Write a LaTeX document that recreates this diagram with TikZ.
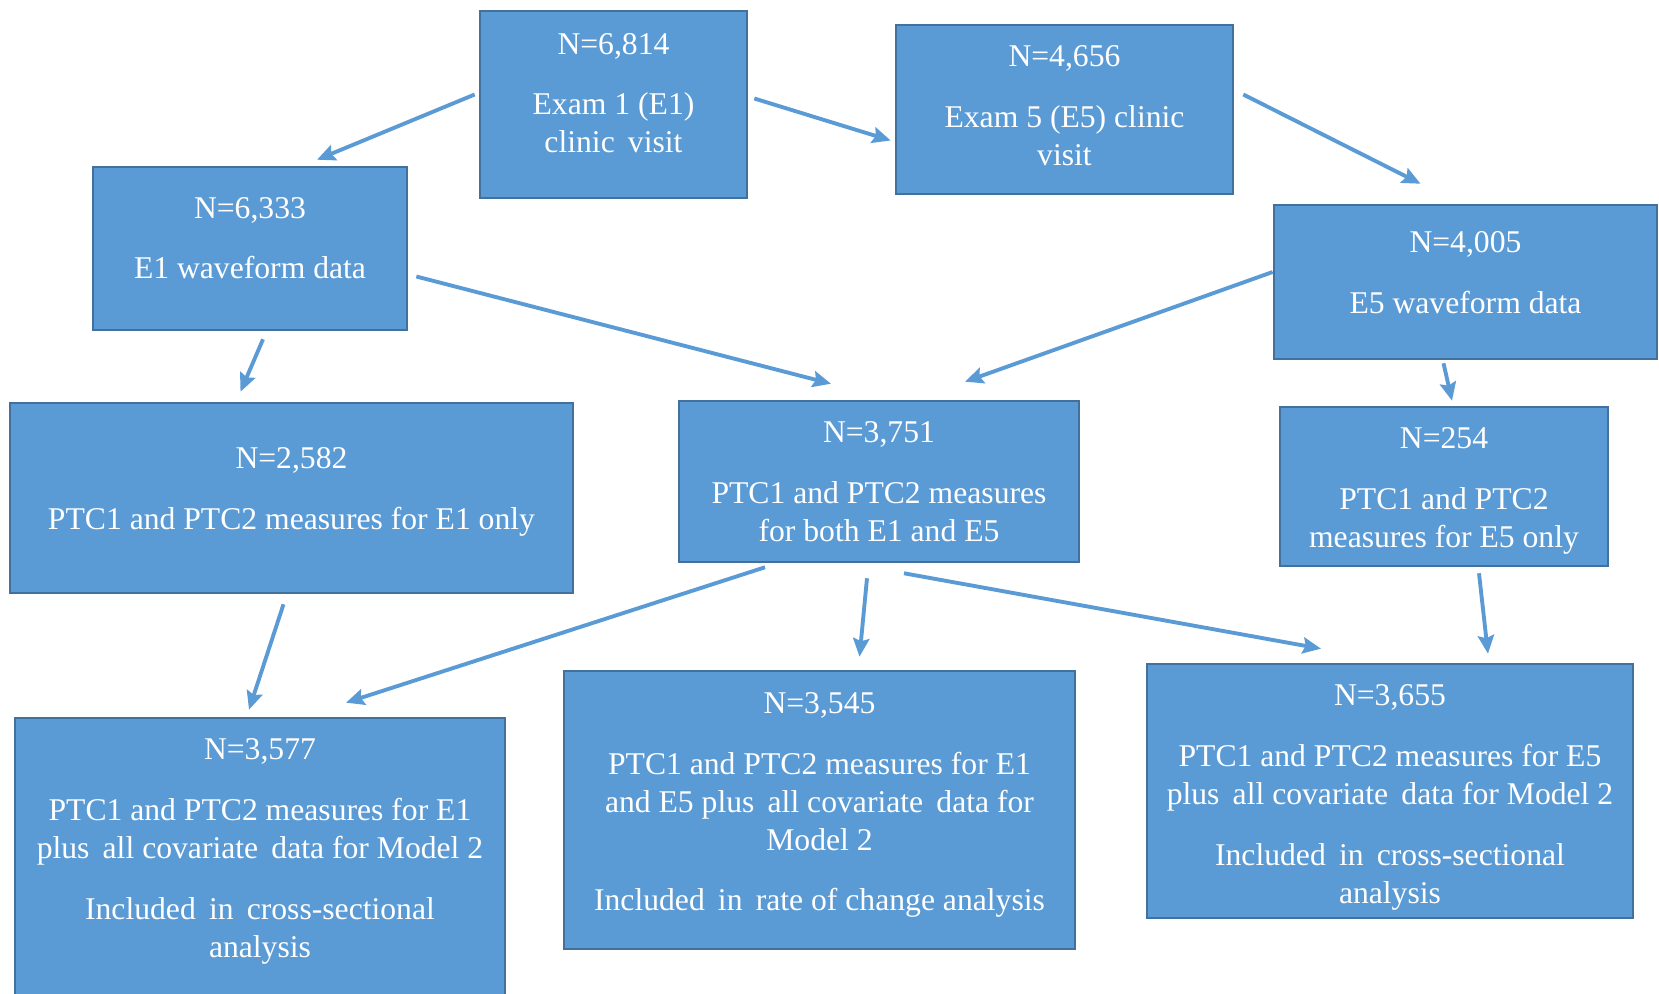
\documentclass[tikz,border=0pt]{standalone}
\usepackage{fontspec}
\setmainfont{Liberation Serif}
\usepackage{tikz}
\usetikzlibrary{arrows.meta, positioning, calc}
\definecolor{BoxFill}{HTML}{5B9BD5}
\definecolor{BoxLine}{HTML}{41719C}
\definecolor{ArrowBlue}{HTML}{5B9BD5}
\newcommand{\pgap}{\\[6.5pt]}
% struts to move a box text up (depth) or down (height)
\newcommand{\lift}[1]{\rule[-#1]{0pt}{0pt}}
\newcommand{\drop}[1]{\rule{0pt}{#1}}

\begin{document}
\begin{tikzpicture}[x=0.01cm, y=-0.01cm,
    box/.style={draw=BoxLine, line width=0.7pt, fill=BoxFill, text=white, align=center,
        inner sep=0pt, font=\fontsize{9}{10.8}\selectfont},
    flow/.style={draw=ArrowBlue, line width=1.1pt, -{Stealth[length=5.2pt, width=4.6pt, inset=0.8pt]}}]
    % Page frame
    \useasboundingbox[fill=white] (0,0) rectangle (1659,994);

    % First row
    \node[box, minimum width=2.67cm, minimum height=1.87cm] (e1visit) at (613.5,104.5)
        {N=6,814\pgap Exam 1 (E1)\\ clinic\, visit\lift{6.6pt}};
    \node[box, minimum width=3.37cm, minimum height=1.69cm] (e5visit) at (1064.5,109.5)
        {N=4,656\pgap Exam 5 (E5) clinic\\ visit\lift{2.4pt}};

    % Waveform data
    \node[box, minimum width=3.14cm, minimum height=1.63cm] (e1wave) at (250,248.5)
        {N=6,333\pgap E1 waveform data\lift{6pt}};
    \node[box, minimum width=3.83cm, minimum height=1.54cm] (e5wave) at (1465.5,282)
        {N=4,005\pgap E5 waveform data\lift{5.4pt}};

    % PTC measures
    \node[box, minimum width=5.63cm, minimum height=1.90cm] (e1only) at (291.5,498)
        {N=2,582\pgap PTC1 and PTC2 measures for E1 only\lift{5.4pt}};
    \node[box, minimum width=4.00cm, minimum height=1.61cm] (both) at (879,481.5)
        {N=3,751\pgap PTC1 and PTC2 measures\\ for both E1 and E5};
    \node[box, minimum width=3.28cm, minimum height=1.59cm] (e5only) at (1444,486.5)
        {\drop{8.6pt}N=254\pgap PTC1 and PTC2\\ measures for E5 only};

    % Analysis samples
    \node[box, minimum width=4.90cm, minimum height=2.92cm] (n3577) at (260,864)
        {N=3,577\pgap PTC1 and PTC2 measures for E1\\ plus\, all covariate\, data for Model 2\pgap
         Included\, in\, cross-sectional\\ analysis\lift{9pt}};
    \node[box, minimum width=5.11cm, minimum height=2.78cm] (n3545) at (819.5,810)
        {N=3,545\pgap PTC1 and PTC2 measures for E1\\ and E5 plus\, all covariate\, data for\\ Model 2\pgap
         Included\, in\, rate of change analysis\lift{4.8pt}};
    \node[box, minimum width=4.86cm, minimum height=2.54cm] (n3655) at (1390,791)
        {\drop{9.8pt}N=3,655\pgap PTC1 and PTC2 measures for E5\\ plus\, all covariate\, data for Model 2\pgap
         Included\, in\, cross-sectional\\ analysis};

    % Arrows
    \draw[flow] ($(e1visit.west)+(-4,-10)$) -- ($(e1wave.north)+(67,-6)$);
    \draw[flow] ($(e1visit.east)+(6,-6)$) -- ($(e5visit.west)+(-4,31)$);
    \draw[flow] ($(e5visit.east)+(9,-15)$) -- ($(e5wave.north)+(-45,-20)$);
    \draw[flow] ($(e1wave.south)+(13,8)$) -- ($(e1only.north)+(-51,-10)$);
    \draw[flow] ($(e1wave.east)+(8,28)$) -- ($(both.north)+(-48,-16)$);
    \draw[flow] ($(e5wave.west)+(0,-10)$) -- ($(both.north)+(86,-18)$);
    \draw[flow] ($(e5wave.south)+(-22,3)$) -- ($(e5only.north)+(8,-5)$);
    \draw[flow] ($(e1only.south)+(-8,10)$) -- ($(n3577.north)+(-11,-7)$);
    \draw[flow] ($(both.south)+(-114,4)$) -- ($(n3577.north)+(86,-14)$);
    \draw[flow] ($(both.south)+(-12,15)$) -- ($(n3545.north)+(40,-13)$);
    \draw[flow] ($(both.south)+(25,10)$) -- ($(n3655.north)+(-69,-14)$);
    \draw[flow] ($(e5only.south)+(35,6)$) -- ($(n3655.north)+(98,-9)$);
\end{tikzpicture}
\end{document}
